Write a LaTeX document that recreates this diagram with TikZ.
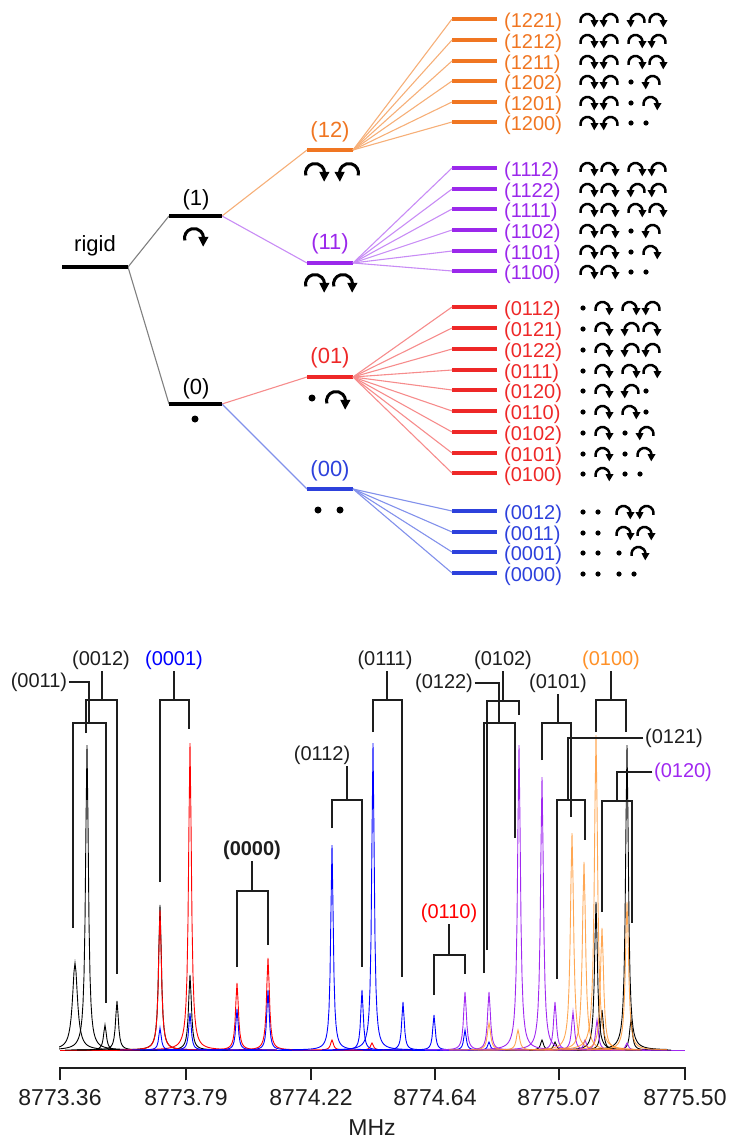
\documentclass[tikz,border=0pt]{standalone}
\usepackage{fontspec}
\setmainfont{Liberation Sans}
\usetikzlibrary{arrows.meta}
\definecolor{cor}{RGB}{240,118,34}
\definecolor{cpu}{RGB}{155,40,235}
\definecolor{cre}{RGB}{238,40,40}
\definecolor{cbl}{RGB}{45,65,220}
\definecolor{lor}{RGB}{246,175,120}
\definecolor{lpu}{RGB}{200,140,245}
\definecolor{lre}{RGB}{246,140,140}
\definecolor{lbl}{RGB}{130,145,235}
\definecolor{sre}{RGB}{255,0,0}
\definecolor{sbl}{RGB}{0,0,255}
\definecolor{spu}{RGB}{160,40,240}
\definecolor{sor}{RGB}{255,145,40}
\definecolor{ink}{RGB}{30,30,30}
\tikzset{
  bar/.style={line width=4pt},
  conn/.style={line width=1.1pt},
  rlab/.style={font=\fontsize{20}{22}\selectfont, inner sep=0pt, anchor=west},
  tlab/.style={font=\fontsize{22}{24}\selectfont, inner sep=0pt},
  slab/.style={font=\fontsize{20}{22}\selectfont, inner sep=1.5pt, text=ink},
  cws/.pic={\draw[line width=2.5pt] (195:7) arc[start angle=195,end angle=2,radius=7];
            \fill (3,0.8) -- (11,0.8) -- (6.7,-6.3) -- cycle;},
  ccws/.pic={\draw[line width=2.5pt] (-15:7) arc[start angle=-15,end angle=178,radius=7];
            \fill (-3,0.8) -- (-11,0.8) -- (-6.7,-6.3) -- cycle;},
  cwb/.pic={\draw[line width=3pt] (195:9.5) arc[start angle=195,end angle=2,radius=9.5];
            \fill (4.2,1.2) -- (14.6,1.2) -- (9.1,-8.7) -- cycle;},
  ccwb/.pic={\draw[line width=3pt] (-15:9.5) arc[start angle=-15,end angle=178,radius=9.5];
            \fill (-4.2,1.2) -- (-14.6,1.2) -- (-9.1,-8.7) -- cycle;},
  brk/.style={line width=1.6pt, draw=ink},
  spk/.style={line width=0.9pt},
}
\newcommand\symone[2]{%
  \ifnum#2=0
    \fill (\sx+5,-#1-1) circle[radius=2.6];
    \pgfmathsetmacro\sx{\sx+15}%
  \else
    \ifnum#2=1
      \pic at (\sx+9.5,-#1-2) {cws};
    \else
      \pic at (\sx+11.5,-#1-2) {ccws};
    \fi
    \pgfmathsetmacro\sx{\sx+21}%
  \fi}
\def\symdigits#1#2#3#4\relax#5{\symone{#5}{#1}\symone{#5}{#2}\pgfmathsetmacro\sx{\sx+6}\symone{#5}{#3}\symone{#5}{#4}}
\newcommand\levrow[5]{%
  \coordinate (l#1) at (452,-#2);
  \draw[bar,#3] (l#1) -- ++(45,0);
  \draw[conn,#4] (#5) -- (l#1);
  \node[rlab,text=#3] (n#1) at (504,-#2-3) {(#1)};
  \def\sx{578}%
  \expandafter\symdigits#1\relax{#2}}
\newcommand\pk[4]{\draw[spk,#1] plot[domain=#2-40:#2+40,samples=81] (\x,{-1050+(1050-#3)/(1+((\x-#2)/#4)^2)});}
\begin{document}
\begin{tikzpicture}[x=1pt,y=1pt]
\path[use as bounding box] (0,0) rectangle (739,-1142);
% ---------- level tree ----------
\coordinate (lr) at (62,-267); \coordinate (rr) at (128,-267);
\coordinate (l1) at (169,-216); \coordinate (r1) at (222,-216);
\coordinate (l0) at (169,-404); \coordinate (r0) at (222,-404);
\coordinate (l12) at (307,-150); \coordinate (r12) at (353,-150);
\coordinate (l11) at (307,-263); \coordinate (r11) at (353,-263);
\coordinate (l01) at (307,-377); \coordinate (r01) at (353,-377);
\coordinate (l00) at (307,-489); \coordinate (r00) at (353,-489);
\draw[conn,gray] (rr) -- (l1);
\draw[conn,gray] (rr) -- (l0);
\draw[conn,lor] (r1) -- (l12);
\draw[conn,lpu] (r1) -- (l11);
\draw[conn,lre] (r0) -- (l01);
\draw[conn,lbl] (r0) -- (l00);
\draw[bar,black] (lr) -- (rr);
\draw[bar,black] (l1) -- (r1);
\draw[bar,black] (l0) -- (r0);
\draw[bar,cor] (l12) -- (r12);
\draw[bar,cpu] (l11) -- (r11);
\draw[bar,cre] (l01) -- (r01);
\draw[bar,cbl] (l00) -- (r00);
\node[tlab] (trig) at (95,-246) {rigid};
\node[tlab] (t1) at (196,-200) {(1)};
\node[tlab] (t0) at (196,-389) {(0)};
\node[tlab,text=cor] (t12) at (330,-132) {(12)};
\node[tlab,text=cpu] (t11) at (330,-244) {(11)};
\node[tlab,text=cre] (t01) at (330,-358) {(01)};
\node[tlab,text=cbl] (t00) at (330,-471) {(00)};
\pic at (194,-238) {cwb};
\fill (195,-419) circle[radius=3.5];
\pic at (315,-173) {cwb}; \pic at (349,-173) {ccwb};
\pic at (315,-284) {cwb}; \pic at (343,-284) {cwb};
\fill (312,-398) circle[radius=3.5]; \pic at (336,-401) {cwb};
\fill (318,-510) circle[radius=3.5]; \fill (340,-510) circle[radius=3.5];
\foreach \c/\y in {1221/19,1212/40,1211/61,1202/81,1201/102,1200/122}{\levrow{\c}{\y}{cor}{lor}{r12}}
\foreach \c/\y in {1112/168,1122/189,1111/209,1102/230,1101/251,1100/271}{\levrow{\c}{\y}{cpu}{lpu}{r11}}
\foreach \c/\y in {0112/307,0121/328,0122/349,0111/370,0120/390,0110/411,0102/432,0101/453,0100/473}{\levrow{\c}{\y}{cre}{lre}{r01}}
\foreach \c/\y in {0012/511,0011/532,0001/552,0000/573}{\levrow{\c}{\y}{cbl}{lbl}{r00}}
% ---------- spectrum ----------
\begin{scope}
\clip (59,-600) rectangle (686,-1060);
\draw[spk,black] (60,-1050) -- (685,-1050);
\draw[spk,sre] (60,-1050) -- (520,-1050);
\draw[spk,sbl] (140,-1050) -- (530,-1050);
\draw[spk,spu] (440,-1050) -- (685,-1050);
\draw[spk,sor,opacity=.8] (470,-1050) -- (640,-1050);
\pk{black}{75}{963}{3}
\foreach \a/\b in {87/745,105/1025,117/1001,160/905,190/975,542/1040,555/1042,596/902,602/1010,627/745,631/1020}{\pk{black}{\a}{\b}{1.7}}
\foreach \a/\b in {160/910,190/743,237/983,268/958,332/1040,372/1043}{\pk{sre}{\a}{\b}{1.7}}
\foreach \a/\b in {160/1028,190/1013,237/1009,268/990,332/845,362/990,373/743,403/1002,434/1015,465/1030,489/1042}{\pk{sbl}{\a}{\b}{1.5}}
\foreach \a/\b in {465/992,489/992,519/745,542/777,555/1002,573/1012,585/1040,597/1020,627/1043}{\pk{spu}{\a}{\b}{1.7}}
\foreach \a/\b in {489/1023,518/1030,572/833,584/862,596/735,602/928,627/902}{\pk{sor,opacity=.8}{\a}{\b}{1.9}}
\end{scope}
% ---------- brackets ----------
\node[slab] (L0011) at (39,-682) {(0011)};
\coordinate (b0011) at (89,-723);
\draw[brk] (L0011.east) -| (b0011);
\draw[brk] (73,-928) |- (106,-723) -- (106,-1003);
\node[slab] (L0012) at (101,-660) {(0012)};
\coordinate (b0012) at (102,-700);
\draw[brk] (L0012.south -| b0012) -- (b0012);
\draw[brk] (86,-733) |- (117,-700) -- (117,-974);
\node[slab,text=sbl] (L0001) at (174,-660) {(0001)};
\coordinate (b0001) at (174,-700);
\draw[brk] (L0001.south -| b0001) -- (b0001);
\draw[brk] (160,-882) |- (189,-700) -- (189,-729);
\node[slab,font=\fontsize{20}{22}\selectfont\bfseries] (L0000) at (252,-850) {(0000)};
\coordinate (b0000) at (252,-891);
\draw[brk] (L0000.south -| b0000) -- (b0000);
\draw[brk] (237,-967) |- (268,-891) -- (268,-945);
\node[slab] (L0112) at (322,-755) {(0112)};
\coordinate (b0112) at (347,-800);
\draw[brk] (L0112.south -| b0112) -- (b0112);
\draw[brk] (332,-828) |- (362,-800) -- (362,-967);
\node[slab] (L0111) at (385,-660) {(0111)};
\coordinate (b0111) at (387,-700);
\draw[brk] (L0111.south -| b0111) -- (b0111);
\draw[brk] (373,-732) |- (402,-700) -- (402,-977);
\node[slab,text=sre] (L0110) at (449,-913) {(0110)};
\coordinate (b0110) at (449,-955);
\draw[brk] (L0110.south -| b0110) -- (b0110);
\draw[brk] (434,-995) |- (465,-955) -- (465,-974);
\node[slab] (L0122) at (444,-683) {(0122)};
\coordinate (b0122) at (499,-723);
\draw[brk] (L0122.east) -| (b0122);
\draw[brk] (484,-973) |- (515,-723) -- (515,-838);
\node[slab] (L0102) at (503,-660) {(0102)};
\coordinate (b0102) at (503,-701);
\draw[brk] (L0102.south -| b0102) -- (b0102);
\draw[brk] (487,-950) |- (519,-701) -- (519,-715);
\node[slab] (L0101) at (558,-683) {(0101)};
\coordinate (b0101) at (558,-723);
\draw[brk] (L0101.south -| b0101) -- (b0101);
\draw[brk] (542,-760) |- (571,-723) -- (571,-817);
\node[slab,text=sor] (L0100) at (611,-660) {(0100)};
\coordinate (b0100) at (611,-700);
\draw[brk] (L0100.south -| b0100) -- (b0100);
\draw[brk] (596,-732) |- (626,-700) -- (626,-732);
\node[slab] (L0121) at (674,-738) {(0121)};
\coordinate (b0121) at (568,-800);
\draw[brk] (L0121.west) -| (b0121);
\draw[brk] (557,-979) |- (585,-800) -- (585,-840);
\node[slab,text=spu] (L0120) at (683,-772) {(0120)};
\coordinate (b0120) at (617,-801);
\draw[brk] (L0120.west) -| (b0120);
\draw[brk] (602,-912) |- (632,-801) -- (632,-923);
% ---------- axis ----------
\draw[line width=1.8pt,ink] (60,-1080) -- (60,-1068) -- (685,-1068) -- (685,-1080);
\foreach \t in {186,311,435,559}{\draw[line width=1.8pt,ink] (\t,-1068) -- (\t,-1080);}
\foreach \t/\v [count=\i] in {60/8773.36,186/8773.79,311/8774.22,435/8774.64,559/8775.07,685/8775.50}{
  \node[font=\fontsize{23}{25}\selectfont,text=ink,inner sep=0pt] (tk\i) at (\t,-1098) {\v};}
\node[font=\fontsize{23}{25}\selectfont,text=ink,inner sep=0pt] (mhz) at (372,-1128) {MHz};
\end{tikzpicture}
\end{document}
